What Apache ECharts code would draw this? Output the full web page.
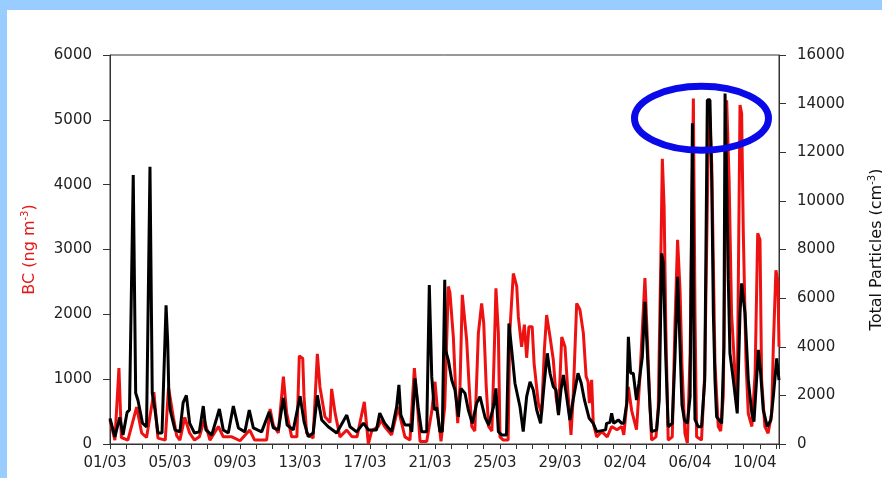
<!DOCTYPE html>
<html>
<head>
<meta charset="utf-8">
<script src="https://cdn.jsdelivr.net/npm/echarts@6/dist/echarts.min.js"></script>
<style>
  html, body { margin: 0; padding: 0; background: #fff; }
  #chart { width: 882px; height: 478px; }
</style>
</head>
<body>
<div id="chart"></div>
<script>
// x labels (one every 4 days, day 0 = 01/03)
var dayLabels = ['01/03', '05/03', '09/03', '13/03', '17/03', '21/03', '25/03', '29/03', '02/04', '06/04', '10/04'];

// BC (ng m-3), red, left axis
var bcDays = [0, 0.3, 0.55, 0.7, 1.1, 1.64, 1.95, 2.25, 2.7, 2.95, 3.4, 3.6, 3.9, 4.1, 4.3, 4.6, 4.9, 5.2, 5.5, 5.8, 6.15,
  6.67, 6.97, 7.5, 8.0, 8.6, 8.9, 9.64, 9.85, 10.05, 10.36, 10.67, 10.87, 11.18, 11.5, 11.65, 11.86, 11.94, 12.1, 12.5,
  12.76, 12.92, 13.23, 13.54, 13.64, 13.85, 14.15, 14.57, 14.9, 15.2, 15.65, 15.8, 15.9, 16.1, 16.5, 16.7, 16.9, 17.33,
  17.74, 17.9, 18.15, 18.46, 18.73, 18.93, 19.08, 19.49, 19.8, 20.0, 20.17, 20.37, 20.6, 20.82, 20.92, 21.13, 21.27, 21.4,
  21.54, 21.68, 21.95, 22.1, 22.26, 22.45, 22.67, 22.87, 23.0, 23.15, 23.3, 23.5, 23.65, 23.75, 23.9, 24.0, 24.2, 24.5,
  24.6, 24.82, 25.03, 25.13, 25.33, 25.5, 25.64, 25.78, 25.98, 26.1, 26.36, 26.56, 26.73, 26.87, 27.08, 27.28, 27.45,
  27.6, 27.8, 28.0, 28.17, 28.37, 28.5, 28.72, 28.92, 29.13, 29.3, 29.42, 29.5, 29.64, 29.74, 29.95, 30.26, 30.6, 30.87,
  31.2, 31.49, 31.62, 31.9, 32.1, 32.3, 32.4, 32.6, 32.92, 33.03, 33.23, 33.33, 33.6, 33.74, 33.9, 33.99, 34.1, 34.2,
  34.35, 34.6, 34.77, 34.93, 35.08, 35.2, 35.38, 35.53, 35.7, 35.9, 36.0, 36.1, 36.4, 36.6, 36.86, 37.03, 37.23, 37.43,
  37.58, 37.74, 37.95, 38.1, 38.25, 38.46, 38.6, 38.77, 38.87, 38.97, 39.14, 39.28, 39.5, 39.7, 39.86, 40.0, 40.1, 40.3,
  40.5, 40.72, 40.82, 40.98, 41.1, 41.17];
var bcValues = [370, 60, 1170, 100, 60, 570, 170, 100, 800, 90, 60, 870, 410, 130, 60, 410, 170, 60, 110, 370, 60,
  270, 110, 110, 50, 215, 60, 60, 540, 290, 170, 1040, 480, 110, 110, 1360, 1320, 730, 170, 90,
  1390, 880, 420, 330, 850, 480, 110, 215, 110, 110, 650, 270, 0, 200, 270, 370, 270, 140,
  575, 370, 110, 60, 1170, 575, 40, 40, 500, 960, 470, 40, 575, 2430, 2330, 1650, 830, 320,
  900, 2300, 1600, 900, 270, 200, 1710, 2170, 1860, 900, 270, 200, 1450, 2400, 1710, 110, 60, 60,
  1710, 2630, 2430, 1960, 1500, 1840, 1330, 1810, 1810, 1240, 630, 470, 1450, 1990, 1650, 1300, 730,
  470, 1650, 1500, 830, 140, 700, 2170, 2070, 1710, 1040, 960, 630, 990, 320, 110, 190, 110, 270,
  220, 270, 140, 880, 520, 320, 220, 990, 2560, 1860, 575, 60, 110, 575, 2890, 4400, 3660, 1860,
  60, 110, 1860, 3150, 2370, 1200, 165, 15, 1400, 5330, 2010, 110, 60, 1090, 5330, 4330, 1250, 270,
  200, 730, 5300, 4070, 2010, 1090, 730, 5230, 5100, 3300, 1250, 470, 270, 1090, 3250, 3150, 990, 270,
  165, 470, 1500, 2680, 2520, 1500];

// Total particles (cm-3), black, right axis
var tpDays = [0, 0.3, 0.6, 0.8, 1.05, 1.2, 1.43, 1.58, 1.72, 2.0, 2.25, 2.46, 2.6, 2.77, 2.95, 3.2, 3.45, 3.55, 3.62, 3.7,
  4.0, 4.3, 4.5, 4.7, 4.9, 5.2, 5.5, 5.74, 5.9, 6.26, 6.57, 6.73, 6.97, 7.28, 7.59, 7.9, 8.3, 8.57, 8.82, 9.33, 9.8,
  10.05, 10.36, 10.67, 10.9, 11.28, 11.7, 11.94, 12.2, 12.5, 12.76, 13.03, 13.43, 13.95, 14.57, 14.77, 15.18, 15.6,
  15.9, 16.4, 16.6, 16.9, 17.33, 17.64, 17.78, 17.9, 18.15, 18.46, 18.57, 18.77, 18.97, 19.18, 19.49, 19.65, 19.8,
  19.96, 20.1, 20.3, 20.45, 20.6, 20.65, 20.82, 21.03, 21.23, 21.44, 21.6, 21.85, 22.05, 22.3, 22.56, 22.77, 23.08,
  23.3, 23.6, 23.75, 23.9, 24.1, 24.4, 24.55, 24.72, 24.92, 25.23, 25.43, 25.64, 25.85, 26.05, 26.26, 26.5, 26.73,
  26.91, 27.08, 27.28, 27.45, 27.6, 27.75, 27.9, 28.1, 28.3, 28.5, 28.8, 29.0, 29.2, 29.48, 29.74, 29.95, 30.5, 30.56,
  30.77, 30.87, 31.0, 31.28, 31.49, 31.62, 31.8, 31.9, 32.04, 32.2, 32.4, 32.55, 32.76, 32.92, 33.06, 33.23, 33.33,
  33.64, 33.8, 33.95, 34.05, 34.2, 34.35, 34.6, 34.77, 34.93, 35.08, 35.2, 35.35, 35.53, 35.7, 35.84, 35.94, 36.0,
  36.2, 36.4, 36.6, 36.76, 36.92, 37.03, 37.13, 37.23, 37.33, 37.64, 37.78, 37.85, 37.95, 38.05, 38.15, 38.36, 38.6,
  38.77, 38.87, 39.08, 39.28, 39.5, 39.63, 39.75, 39.9, 40.04, 40.2, 40.45, 40.67, 40.82, 41.03, 41.17];
var tpValues = [1050, 290, 1100, 370, 1300, 1400, 11060, 2100, 1800, 860, 700, 11400, 2100, 1400, 450, 450, 5700, 4200, 2100, 1400,
  580, 500, 1700, 2000, 860, 450, 500, 1560, 580, 370, 1070, 1440, 580, 450, 1560, 660, 500, 1400, 660, 500, 1320,
  660, 580, 1890, 780, 580, 1970, 920, 300, 450, 2000, 990, 710, 450, 1190, 710, 500, 860,
  580, 580, 1270, 860, 510, 1530, 2430, 1190, 780, 780, 500, 2700, 1480, 500, 500, 6540, 2770,
  1400, 1500, 510, 520, 6750, 3870, 3450, 2630, 2220, 1120, 2290, 2080, 1400, 850, 1670, 1950, 1100,
  780, 1530, 2290, 510, 370, 370, 4960, 3870, 2500, 1530, 510, 1950, 2560, 2220, 1400, 850, 2560,
  3730, 2910, 2360, 2220, 1190, 2220, 2840, 1950, 990, 1810, 2910, 2500, 1800, 1070, 850, 510, 580, 850,
  890, 1260, 850, 990, 850, 850, 1670, 4410, 2910, 2910, 1810, 2500, 3590, 5850, 3870, 1530, 510,
  580, 1810, 7840, 7440, 3590, 710, 850, 3590, 6880, 4000, 1600, 990, 850, 1950, 13190, 4000, 1000,
  710, 710, 2630, 14150, 14150, 10860, 5370, 2630, 1120, 850, 4000, 14420, 10860, 6750, 3730, 2630, 1260,
  5370, 6610, 5370, 2630, 1260, 920, 2220, 3870, 2910, 1400, 710, 990, 1950, 3520, 2630];

function zip(xs, ys) {
  return xs.map(function (x, i) { return [x, ys[i]]; });
}

var FONT = 'DejaVu Sans';
var myChart = echarts.init(document.getElementById('chart'));

var frame = [
  { type: 'rect', shape: { x: 0, y: 0, width: 882, height: 10 }, style: { fill: '#99ccff' } },
  { type: 'rect', shape: { x: 0, y: 0, width: 7, height: 478 }, style: { fill: '#99ccff' } }
];

var option = {
  backgroundColor: '#fff',
  animation: false,
  grid: {
    left: 110, right: 103, top: 55, bottom: 34,
    outerBoundsMode: 'none', containLabel: false,
    show: true, borderColor: '#333', borderWidth: 1
  },
  xAxis: {
    type: 'value', min: 0, max: 41.17, interval: 1,
    axisLine: { onZero: false, lineStyle: { color: '#333', width: 1 } },
    axisTick: { length: 5, lineStyle: { color: '#333' } },
    splitLine: { show: false },
    axisLabel: {
      color: '#222', fontFamily: FONT, fontSize: 15, margin: 12, padding: [0, 10, 0, 0],
      formatter: function (v) { return (v % 4 === 0) ? dayLabels[v / 4] : ''; }
    }
  },
  yAxis: [{
    type: 'value', position: 'left', min: 0, max: 6000, interval: 1000,
    axisLine: { show: true, lineStyle: { color: '#333', width: 1 } },
    axisTick: { show: true, length: 7, lineStyle: { color: '#333' } },
    splitLine: { show: false },
    axisLabel: { color: '#222', fontFamily: FONT, fontSize: 15, margin: 18, formatter: function (v) { return String(v); } },
    name: '{t|BC (ng m}{s|-3}{t|)}', nameLocation: 'middle', nameRotate: 90, nameGap: 70,
    nameTextStyle: {
      color: '#e41a1a', fontFamily: FONT, fontSize: 16,
      rich: {
        t: { color: '#e41a1a', fontFamily: FONT, fontSize: 16, lineHeight: 20 },
        s: { color: '#e41a1a', fontFamily: FONT, fontSize: 10, verticalAlign: 'top', lineHeight: 12 }
      }
    }
  }, {
    type: 'value', position: 'right', min: 0, max: 16000, interval: 2000,
    axisLine: { show: true, lineStyle: { color: '#333', width: 1 } },
    axisTick: { show: true, length: 7, lineStyle: { color: '#333' } },
    splitLine: { show: false },
    axisLabel: { color: '#222', fontFamily: FONT, fontSize: 15, margin: 18, formatter: function (v) { return String(v); } },
    name: '{t|Total Particles (cm}{s|-3}{t|)}', nameLocation: 'middle', nameRotate: 90, nameGap: 88,
    nameTextStyle: {
      color: '#111', fontFamily: FONT, fontSize: 16,
      rich: {
        t: { color: '#111', fontFamily: FONT, fontSize: 16, lineHeight: 20 },
        s: { color: '#111', fontFamily: FONT, fontSize: 10, verticalAlign: 'top', lineHeight: 12 }
      }
    }
  }],
  series: [{
    name: 'BC', type: 'line', yAxisIndex: 0, showSymbol: false, z: 2,
    lineStyle: { color: '#ee1111', width: 3 },
    data: zip(bcDays, bcValues)
  }, {
    name: 'Total Particles', type: 'line', yAxisIndex: 1, showSymbol: false, z: 3,
    lineStyle: { color: '#000', width: 3 },
    data: zip(tpDays, tpValues)
  }],
  graphic: frame
};

myChart.setOption(option);

// blue ellipse round the April peaks, placed in data space
var c = myChart.convertToPixel({ xAxisIndex: 0, yAxisIndex: 1 }, [36.4, 13400]);
myChart.setOption({
  graphic: frame.concat([
    { type: 'ellipse', z: 100, shape: { cx: c[0], cy: c[1], rx: 67, ry: 32 }, style: { fill: 'none', stroke: '#0a0ae8', lineWidth: 7 } }
  ])
});
</script>
</body>
</html>
